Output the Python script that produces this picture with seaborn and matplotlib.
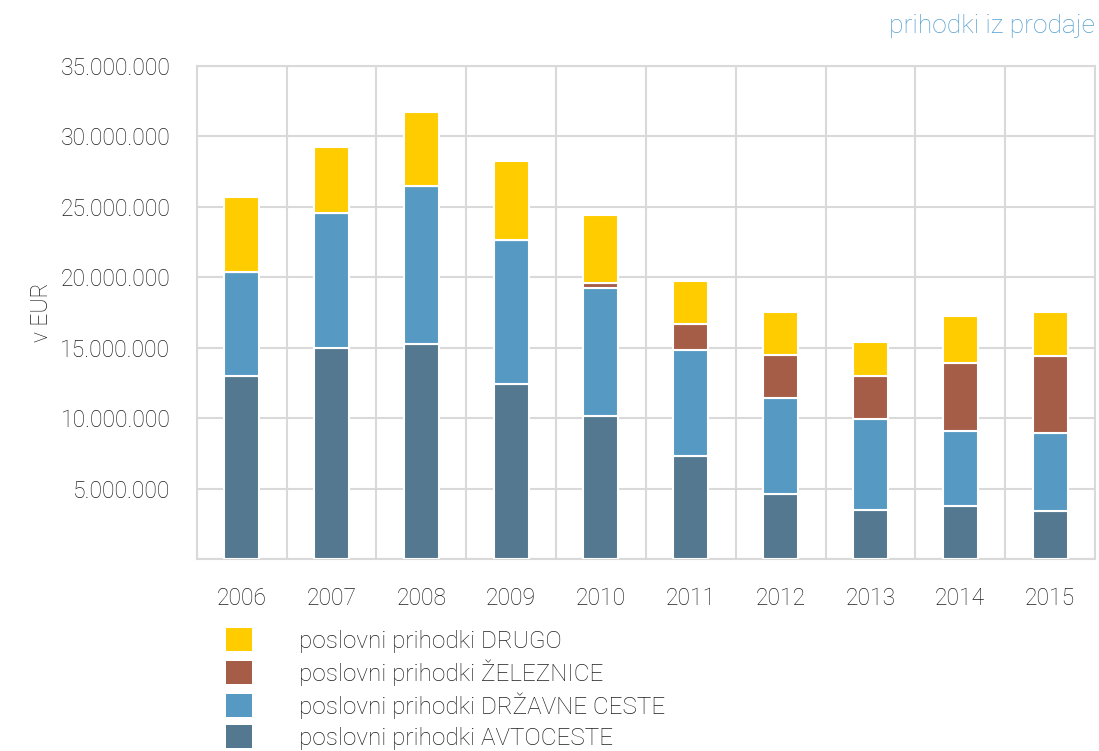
import matplotlib
matplotlib.use("Agg")
import matplotlib.pyplot as plt
import matplotlib.ticker as mticker
from matplotlib.patches import Patch
import numpy as np
import pandas as pd
import seaborn as sns

# data (EUR)
years = ["2006", "2007", "2008", "2009", "2010", "2011", "2012", "2013", "2014", "2015"]
avtoceste = [13.0e6, 14.98e6, 15.26e6, 12.42e6, 10.15e6, 7.31e6, 4.61e6, 3.48e6, 3.76e6, 3.41e6]
drzavne_ceste = [7.37e6, 9.58e6, 11.22e6, 10.23e6, 9.09e6, 7.53e6, 6.82e6, 6.46e6, 5.33e6, 5.54e6]
zeleznice = [0, 0, 0, 0, 0.36e6, 1.84e6, 3.05e6, 3.05e6, 4.82e6, 5.46e6]
drugo = [5.33e6, 4.69e6, 5.25e6, 5.60e6, 4.82e6, 3.06e6, 3.06e6, 2.42e6, 3.34e6, 3.13e6]

series = [
    ("poslovni prihodki AVTOCESTE", avtoceste, "#54788f"),
    ("poslovni prihodki DRŽAVNE CESTE", drzavne_ceste, "#569ac4"),
    ("poslovni prihodki ŽELEZNICE", zeleznice, "#a65d47"),
    ("poslovni prihodki DRUGO", drugo, "#ffcc00"),
]

sns.set_theme(style="white")
plt.rcParams["font.family"] = ["Roboto", "DejaVu Sans"]
text_color = "#1e1e1e"
grid_color = "#d9d9d9"

fig, ax = plt.subplots(figsize=(10.99, 7.51), dpi=100)
fig.subplots_adjust(left=0.179, right=0.9964, top=0.912, bottom=0.2557)

bottom = np.zeros(len(years))
for label, vals, color in series:
    df = pd.DataFrame({"leto": years, "vrednost": vals})
    sns.barplot(data=df, x="leto", y="vrednost", color=color, width=0.39,
                bottom=bottom.copy(), edgecolor="white", linewidth=1.5,
                saturation=1, ax=ax, zorder=3)
    bottom += np.array(vals)

ax.set_xlim(-0.5, len(years) - 0.5)
ax.set_ylim(0, 35e6)
ax.yaxis.set_major_locator(mticker.MultipleLocator(5e6))
ax.yaxis.set_major_formatter(mticker.FuncFormatter(
    lambda v, p: "" if v == 0 else f"{int(v):,}".replace(",", ".")))
ax.set_xticks(np.arange(-0.5, len(years)), minor=True)
ax.grid(axis="y", which="major", color=grid_color, linewidth=1.5, zorder=0)
ax.grid(axis="x", which="minor", color=grid_color, linewidth=1.5, zorder=0)
ax.grid(axis="x", which="major", visible=False)
for s in ax.spines.values():
    s.set_color(grid_color)
    s.set_linewidth(1.5)

ax.tick_params(axis="both", which="both", length=0, labelsize=16.5, colors=text_color)
ax.tick_params(axis="x", pad=20)
ax.tick_params(axis="y", pad=19)
for t in ax.get_xticklabels() + ax.get_yticklabels():
    t.set_fontweight("light")

ax.set_xlabel("")
ax.set_ylabel("v EUR", fontsize=16.5, color=text_color, fontweight="light")
ax.yaxis.set_label_coords(-0.16, 0.5)

fig.text(0.9964, 0.966, "prihodki iz prodaje", ha="right", va="center",
         fontsize=19, color="#559fd0", fontweight="light")

handles = [Patch(facecolor=c, edgecolor="none", label=l) for l, v, c in series[::-1]]
ax.legend(handles=handles, loc="upper left", bbox_to_anchor=(0.2056, 0.164),
          bbox_transform=fig.transFigure, frameon=False,
          handlelength=1.07, handleheight=1.07, handletextpad=1.95,
          labelspacing=0.27, borderpad=0, borderaxespad=0,
          labelcolor=text_color, prop={"weight": "light", "size": 17.5})

fig.savefig("out.png", dpi=100)
